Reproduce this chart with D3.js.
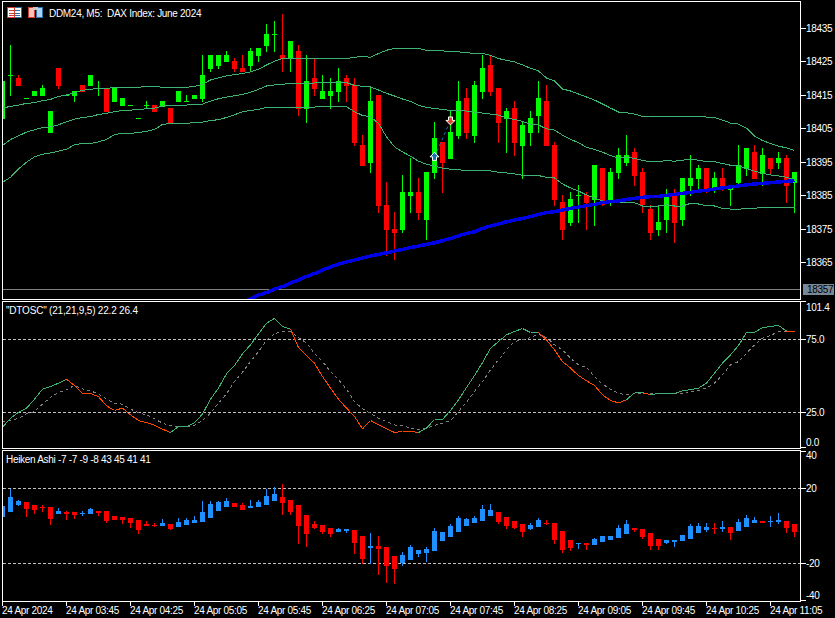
<!DOCTYPE html>
<html>
<head>
<meta charset="utf-8">
<script src="https://d3js.org/d3.v7.min.js"></script>
<style>
html, body { margin: 0; padding: 0; background: #000; }
svg { display: block; }
text { font-family: "Liberation Sans", sans-serif; font-size: 10px; letter-spacing: -0.3px; fill: #fff; }
</style>
</head>
<body>
<script>
// candele DDM24 M5
const priceOpen = [18407.9,18421.0,18420.2,18414.1,18414.8,18414.8,18403.7,18423.2,18414.9,18414.8,18418.1,18417.8,18417.2,18416.9,18413.0,18411.8,18412.0,18408.1,18412.0,18412.1,18411.5,18411.2,18413.0,18413.3,18413.9,18413.9,18422.9,18423.8,18425.0,18425.3,18423.2,18423.8,18426.8,18429.7,18433.2,18427.0,18425.9,18428.2,18410.9,18420.2,18413.9,18414.8,18416.0,18420.2,18418.1,18400.1,18394.7,18415.1,18382.2,18375.0,18374.7,18384.9,18386.1,18377.7,18391.8,18401.0,18395.9,18402.8,18414.2,18402.8,18416.0,18424.1,18417.2,18407.9,18411.2,18399.8,18403.7,18408.8,18413.3,18400.1,18383.1,18376.8,18385.1,18385.2,18383.7,18393.3,18383.7,18391.8,18394.7,18398.0,18392.1,18381.0,18374.7,18377.7,18385.2,18377.7,18387.9,18390.0,18393.3,18387.0,18390.3,18386.7,18388.8,18393.0,18398.0,18391.5,18396.2,18394.7,18396.2,18388.8];
const priceHigh = [18419.3,18430.0,18421.0,18414.2,18416.3,18418.1,18410.3,18423.2,18415.0,18416.3,18418.1,18421.1,18419.3,18416.9,18417.2,18414.2,18412.1,18408.2,18413.3,18412.1,18413.3,18411.2,18416.3,18415.1,18415.1,18427.0,18427.0,18427.0,18428.2,18426.2,18427.0,18429.1,18429.1,18436.3,18437.2,18439.3,18431.2,18430.0,18427.0,18425.9,18421.1,18420.2,18423.2,18421.1,18420.2,18403.1,18417.2,18415.1,18389.1,18380.1,18391.2,18396.2,18390.3,18392.1,18407.0,18401.0,18410.3,18419.3,18417.2,18419.3,18427.0,18426.8,18417.2,18411.2,18413.3,18407.0,18410.3,18419.3,18418.1,18401.0,18385.2,18386.1,18388.2,18386.1,18394.1,18393.3,18393.3,18399.2,18403.1,18399.2,18393.3,18382.2,18382.2,18387.0,18387.0,18390.3,18397.1,18394.1,18393.3,18392.1,18393.3,18388.2,18400.1,18399.2,18400.1,18399.2,18396.2,18398.0,18397.1,18392.1];
const priceLow = [18407.9,18414.8,18417.8,18414.1,18414.8,18414.8,18403.7,18416.9,18414.9,18413.0,18416.0,18417.8,18414.8,18410.0,18413.0,18411.8,18412.0,18408.1,18410.9,18410.0,18411.5,18406.6,18413.0,18413.0,18413.9,18413.0,18422.0,18422.9,18425.0,18422.0,18422.0,18422.0,18425.0,18427.9,18427.9,18422.0,18422.0,18408.8,18406.7,18414.8,18413.9,18410.9,18413.0,18413.0,18399.8,18393.8,18391.8,18379.8,18366.9,18365.7,18373.8,18379.8,18377.7,18371.7,18390.0,18385.8,18395.9,18401.9,18401.9,18400.7,18413.9,18414.8,18400.7,18397.7,18396.8,18390.0,18399.8,18403.7,18399.8,18381.9,18371.7,18375.9,18376.8,18374.7,18375.9,18381.9,18381.9,18390.0,18393.8,18387.9,18379.8,18371.7,18372.9,18373.8,18370.8,18375.9,18384.9,18386.7,18385.8,18385.8,18386.4,18381.9,18388.2,18390.9,18390.0,18387.9,18391.2,18393.0,18382.8,18379.8];
const priceClose = [18419.3,18421.1,18417.8,18414.2,18416.3,18417.2,18410.3,18417.8,18415.0,18416.3,18416.0,18421.1,18417.3,18410.0,18417.2,18414.2,18412.1,18408.2,18412.1,18410.0,18413.3,18406.6,18416.3,18413.4,18415.1,18421.1,18427.0,18427.0,18427.0,18422.9,18422.0,18428.2,18429.1,18433.3,18433.3,18425.9,18431.2,18410.9,18419.3,18416.9,18416.3,18416.3,18419.3,18417.8,18400.6,18393.8,18413.3,18381.9,18374.7,18373.8,18386.1,18386.1,18379.8,18392.1,18402.2,18394.7,18404.0,18413.3,18403.7,18418.1,18423.2,18416.0,18406.7,18410.3,18400.6,18406.1,18408.2,18414.2,18399.8,18383.7,18374.7,18384.0,18385.2,18382.8,18394.1,18382.2,18392.1,18397.1,18397.1,18390.9,18382.2,18373.8,18377.1,18384.6,18376.8,18390.3,18390.3,18393.3,18386.7,18390.3,18387.6,18388.2,18394.1,18399.2,18390.0,18397.1,18393.0,18396.2,18387.9,18392.1];

// bande e media
const bandUpper = [18411.2,18411.7,18412.1,18412.6,18412.8,18413.4,18413.8,18414.7,18415.1,18415.8,18416.5,18416.8,18417.1,18417.1,18417.3,18417.3,18417.4,18417.4,18417.7,18417.7,18417.4,18417.4,18417.4,18417.4,18417.7,18418.3,18419.6,18420.2,18420.8,18421.2,18421.5,18422.0,18422.8,18424.1,18425.2,18426.0,18426.0,18426.0,18426.0,18426.0,18426.0,18426.0,18426.0,18426.0,18426.4,18426.6,18426.4,18427.5,18428.5,18429.0,18429.0,18429.0,18429.0,18428.5,18428.4,18428.3,18428.1,18428.0,18427.8,18427.5,18427.5,18427.0,18426.0,18425.5,18425.0,18424.1,18423.1,18422.3,18420.2,18419.3,18416.9,18416.3,18415.4,18414.5,18413.6,18412.4,18411.2,18410.0,18409.8,18409.4,18408.7,18408.7,18408.7,18408.7,18408.7,18408.7,18408.7,18408.7,18408.5,18408.4,18407.6,18406.7,18406.4,18405.2,18402.8,18401.5,18400.6,18399.8,18399.3,18398.5];
const bandMid = [18400.0,18401.8,18402.9,18404.0,18404.7,18405.4,18405.6,18406.2,18407.1,18407.9,18408.4,18408.6,18409.3,18409.6,18410.1,18410.5,18410.6,18410.7,18411.0,18411.2,18411.8,18412.0,18412.1,18412.1,18412.3,18412.4,18413.3,18414.0,18414.5,18414.9,18415.3,18415.9,18416.8,18417.8,18418.1,18418.3,18418.6,18418.6,18418.6,18418.7,18418.8,18418.9,18418.9,18418.8,18418.0,18417.7,18417.5,18416.6,18415.6,18414.8,18413.9,18413.2,18412.0,18411.4,18411.1,18410.8,18410.5,18410.5,18410.3,18410.0,18409.7,18409.4,18409.1,18408.2,18407.8,18407.2,18406.4,18406.1,18405.0,18404.6,18403.1,18401.9,18400.8,18399.5,18398.8,18398.0,18397.0,18396.2,18396.4,18396.2,18395.5,18395.2,18395.2,18395.5,18395.3,18395.6,18395.9,18395.6,18395.2,18395.2,18394.6,18394.1,18393.8,18393.2,18392.3,18391.7,18391.2,18390.9,18390.5,18389.7];
const bandLower = [18389.0,18390.5,18393.0,18395.0,18396.6,18397.4,18397.8,18398.3,18398.9,18400.2,18400.6,18400.6,18401.1,18401.8,18403.3,18403.6,18403.6,18403.9,18404.2,18404.8,18406.3,18406.6,18406.6,18406.6,18406.9,18407.0,18407.5,18407.7,18408.4,18409.2,18410.1,18410.5,18410.8,18411.4,18411.4,18411.4,18411.4,18411.4,18411.4,18411.5,18411.7,18411.7,18411.7,18411.6,18410.1,18409.0,18408.6,18406.6,18402.6,18399.6,18398.1,18396.8,18395.3,18394.4,18393.9,18393.2,18392.9,18392.7,18392.6,18392.6,18392.5,18392.4,18392.0,18391.8,18391.5,18391.1,18391.0,18391.0,18390.5,18390.3,18388.5,18387.3,18386.4,18385.2,18384.3,18383.4,18383.1,18383.1,18383.0,18382.9,18381.9,18381.6,18381.9,18382.2,18381.9,18381.9,18382.7,18382.5,18382.0,18381.9,18381.2,18381.0,18380.9,18381.2,18381.2,18381.5,18381.5,18381.5,18381.5,18381.5];
const maStart = 30;
const maValues = [18353.0,18354.1,18355.3,18356.0,18357.0,18357.8,18358.8,18359.8,18360.8,18361.7,18362.7,18363.7,18364.5,18365.2,18365.7,18366.4,18367.0,18367.4,18367.9,18368.4,18368.9,18369.5,18369.9,18370.4,18370.9,18371.5,18372.2,18373.0,18373.7,18374.2,18375.2,18375.9,18376.5,18377.2,18377.7,18378.2,18378.7,18379.4,18379.9,18380.2,18380.7,18381.2,18381.6,18382.0,18382.4,18382.9,18383.2,18383.4,18383.9,18384.2,18384.5,18384.7,18384.8,18385.1,18385.4,18385.7,18386.0,18386.4,18386.6,18387.0,18387.3,18387.6,18387.9,18388.2,18388.5,18388.7,18388.9,18389.1,18389.3,18389.5];

// DTOSC
const oscMain = [14.9,21.1,25.2,28.0,34.1,41.0,42.8,45.1,47.8,43.5,38.0,38.0,35.9,29.6,26.4,28.0,23.4,19.5,18.1,16.3,13.6,11.3,15.4,15.2,18.1,23.9,34.1,41.7,51.5,57.2,65.2,71.3,78.9,86.2,89.4,83.9,82.1,69.5,64.0,58.8,49.6,41.7,34.1,28.0,22.3,13.8,19.5,16.5,13.8,11.3,12.0,12.0,11.3,14.3,20.2,20.2,26.4,33.7,42.1,50.3,59.2,69.0,73.6,78.2,80.5,82.5,79.8,79.8,74.8,67.9,59.9,55.4,50.3,46.7,43.5,37.1,33.2,31.6,33.7,38.5,38.5,37.3,38.0,38.0,38.0,39.8,40.7,41.7,45.1,51.9,58.8,64.5,70.9,79.8,79.8,83.2,83.9,84.6,80.8,80.2];
const oscSignal = [18.4,19.5,21.1,24.1,25.7,30.7,35.3,38.7,40.5,43.6,41.2,39.8,37.8,34.1,31.4,30.7,27.3,24.8,23.4,20.7,17.7,15.9,15.4,15.2,16.1,19.5,24.5,31.4,37.8,46.2,52.6,59.9,66.8,74.3,78.9,80.5,80.5,76.4,72.5,65.6,59.9,53.1,47.4,41.0,32.5,27.5,24.5,21.1,18.8,16.5,15.9,14.3,13.1,14.3,16.1,17.7,19.3,25.7,32.1,39.4,46.2,54.2,61.1,67.9,73.6,74.8,76.4,78.6,76.4,71.3,67.9,62.2,57.6,56.0,49.6,44.4,41.0,38.2,37.1,37.8,38.2,38.2,38.0,38.0,38.0,38.2,39.4,40.1,41.7,45.1,50.8,57.6,59.9,65.6,71.3,75.9,77.7,80.5,80.5,80.5];
const oscLevels = [75, 25];
const oscTicks = [101.4, 75, 25, 0];

// Heiken Ashi
const haOpen = [4.7,7.4,11.1,12.7,11.1,10.0,10.0,6.3,7.4,7.4,6.3,6.3,7.9,7.9,5.2,4.7,4.2,3.1,1.0,0.4,-0.1,1.0,-0.6,0.4,1.5,2.0,4.2,7.9,10.0,12.2,11.1,9.5,10.0,11.1,13.2,15.4,13.8,11.1,5.8,1.0,0.4,-1.2,-3.3,-2.8,-2.2,-5.4,-11.8,-10.8,-11.3,-16.1,-19.8,-18.2,-15.0,-14.5,-13.4,-8.1,-6.0,-3.3,-0.1,1.5,2.6,5.2,7.4,4.7,2.6,1.0,-1.7,-0.6,1.5,1.5,-2.8,-7.6,-9.7,-9.2,-10.2,-8.6,-7.6,-6.5,-4.4,-1.2,-1.7,-3.8,-7.0,-9.2,-8.6,-8.1,-7.0,-3.8,-2.2,-1.2,-1.7,-0.6,-2.8,-0.6,1.5,2.6,2.2,2.0,2.6,1.0];
const haHigh = [10.6,20.0,13.8,12.7,11.1,11.1,10.0,9.5,7.9,7.4,7.9,9.5,7.9,7.9,5.2,4.7,4.2,3.1,2.6,1.5,3.6,1.0,4.2,4.2,5.2,13.2,13.2,13.2,14.8,12.2,12.2,13.8,13.8,19.6,20.7,22.3,13.8,11.1,5.8,2.6,0.4,-1.2,-1.2,-1.7,-2.2,-5.4,-3.8,-5.4,-11.3,-16.1,-14.0,-10.2,-12.9,-11.3,-1.2,-3.3,1.0,5.2,4.2,5.2,11.1,11.6,7.4,4.7,2.6,1.0,1.5,4.2,3.1,1.5,-2.8,-7.6,-9.2,-9.2,-6.5,-5.4,-5.4,0.4,3.1,-1.2,-1.7,-3.8,-7.0,-7.6,-7.6,-4.9,1.0,1.5,1.5,1.5,2.6,-0.6,3.6,5.8,4.7,2.6,5.2,6.8,2.6,1.0];
const haLow = [4.7,7.4,10.6,4.7,6.3,7.4,0.4,6.3,3.1,3.6,5.2,6.3,5.2,1.5,3.1,1.0,-1.2,-4.4,-0.1,-0.6,-0.1,-2.2,-0.6,0.4,1.5,2.0,4.2,7.9,10.0,10.0,8.4,9.5,10.0,11.1,13.2,5.8,5.8,-9.7,-11.3,-1.7,-4.4,-6.0,-3.3,-3.8,-15.0,-20.0,-20.0,-26.2,-30.5,-31.0,-21.4,-18.2,-16.6,-19.3,-13.4,-8.1,-6.0,-3.3,-0.1,1.5,2.6,5.2,1.0,-1.7,-1.7,-6.0,-2.2,-0.6,0.4,-9.7,-14.5,-13.4,-12.4,-12.9,-10.2,-8.6,-7.6,-6.5,-4.4,-3.3,-7.0,-12.9,-12.9,-9.7,-11.3,-8.1,-7.0,-3.8,-3.3,-4.4,-3.3,-7.6,-2.8,-0.6,1.5,1.5,-0.6,1.0,-3.8,-6.0];
const haClose = [10.6,15.4,13.2,9.0,8.4,9.5,3.6,7.9,6.3,5.8,6.8,9.0,6.8,2.6,3.1,3.1,1.5,-2.2,-0.1,0.1,1.5,-1.7,2.0,3.1,3.1,7.4,11.6,12.7,13.2,10.0,8.4,10.6,12.7,15.9,17.0,12.2,7.4,-0.1,-4.4,-1.2,-3.3,-4.4,-1.7,-1.7,-9.2,-17.7,-10.8,-12.4,-21.4,-23.0,-15.6,-11.3,-12.9,-12.4,-2.8,-3.3,-0.1,4.2,3.6,4.2,9.0,8.4,2.0,-0.1,-1.2,-3.3,0.4,3.1,1.0,-7.6,-12.9,-11.8,-9.2,-10.2,-7.0,-5.4,-5.4,-1.2,1.0,-2.2,-6.0,-10.8,-10.8,-7.6,-7.6,-4.9,-0.1,-0.1,-0.6,-1.7,-0.6,-3.8,2.0,4.2,3.1,1.5,2.6,3.1,-1.2,-3.3];
const haLevels = [20, -20];
const haTicks = [40, 20, -20, -40];

// assi
const priceTicks = [18435, 18425, 18415, 18405, 18395, 18385, 18375, 18365];
const lastPrice = 18357;
const timeLabels = ["24 Apr 2024", "24 Apr 03:45", "24 Apr 04:25", "24 Apr 05:05", "24 Apr 05:45", "24 Apr 06:25", "24 Apr 07:05", "24 Apr 07:45", "24 Apr 08:25", "24 Apr 09:05", "24 Apr 09:45", "24 Apr 10:25", "24 Apr 11:05"];
const trade = { buyBar: 54, buyPrice: 18396.6, sellBar: 56, sellPrice: 18407.5 };

const width = 835, height = 618;
const left = 2.5, right = 800.5;
const main = { top: 1.5, bottom: 299.5 };
const osc = { top: 301.5, bottom: 448.5 };
const ha = { top: 450.5, bottom: 601.5 };

const x = d3.scaleLinear().domain([0, 99]).range([2.5, 794.5]);
const yPrice = d3.scaleLinear().domain([18435, 18365]).range([28.5, 262.5]);
const yOsc = d3.scaleLinear().domain([75, 25]).range([339.5, 412.5]);
const yHa = d3.scaleLinear().domain([20, -20]).range([488.5, 563.5]);

const svg = d3.select("body").append("svg").attr("width", width).attr("height", height);
svg.append("rect").attr("width", width).attr("height", height).attr("fill", "#000");

const defs = svg.append("defs");
[["clipMain", main], ["clipOsc", osc], ["clipHa", ha]].forEach(([id, p]) => {
	defs.append("clipPath").attr("id", id).append("rect")
		.attr("x", left + 0.5).attr("y", p.top + 0.5)
		.attr("width", right - left - 1).attr("height", p.bottom - p.top - 1);
});

const gMain = svg.append("g").attr("clip-path", "url(#clipMain)").attr("shape-rendering", "crispEdges");
const gOsc = svg.append("g").attr("clip-path", "url(#clipOsc)").attr("shape-rendering", "crispEdges");
const gHa = svg.append("g").attr("clip-path", "url(#clipHa)").attr("shape-rendering", "crispEdges");

function drawCandles(g, y, o, h, l, c, upColor, downColor) {
	o.forEach((open, i) => {
		const close = c[i];
		const color = close >= open ? upColor : downColor;
		const top = Math.round(y(Math.max(open, close)));
		const bottom = Math.round(y(Math.min(open, close)));
		g.append("rect")
			.attr("x", Math.floor(x(i)))
			.attr("y", Math.round(y(h[i])))
			.attr("width", 1)
			.attr("height", Math.max(1, Math.round(y(l[i])) - Math.round(y(h[i]))))
			.attr("fill", color);
		g.append("rect")
			.attr("x", Math.floor(x(i)) - 2)
			.attr("y", top)
			.attr("width", 5)
			.attr("height", Math.max(1, bottom - top))
			.attr("fill", color);
	});
}

// grafico principale
gMain.append("line")
	.attr("x1", left).attr("x2", right)
	.attr("y1", yPrice(lastPrice)).attr("y2", yPrice(lastPrice))
	.attr("stroke", "#808080");
drawCandles(gMain, yPrice, priceOpen, priceHigh, priceLow, priceClose, "#00ff00", "#ff0000");

const priceLine = d3.line().x((d, i) => x(i)).y(d => yPrice(d));
[bandUpper, bandMid, bandLower].forEach(band => {
	gMain.append("path").attr("d", priceLine(band)).attr("fill", "none").attr("stroke", "#3cb371");
});
gMain.append("path")
	.attr("d", d3.line().x((d, i) => x(i + maStart)).y(d => yPrice(d))(maValues))
	.attr("fill", "none").attr("stroke", "#0000e6").attr("stroke-width", 3.5);

// trade
svg.append("line")
	.attr("x1", x(trade.buyBar)).attr("y1", yPrice(trade.buyPrice))
	.attr("x2", x(trade.sellBar)).attr("y2", yPrice(trade.sellPrice))
	.attr("stroke", "#1e6fc0").attr("stroke-dasharray", "3,3");
const bx = x(trade.buyBar), by = yPrice(trade.buyPrice);
svg.append("path")
	.attr("d", `M${bx},${by - 4.5}L${bx + 4.5},${by}L${bx + 2},${by}L${bx + 2},${by + 3.5}L${bx - 2},${by + 3.5}L${bx - 2},${by}L${bx - 4.5},${by}Z`)
	.attr("fill", "#1a6fb5").attr("stroke", "#fff");
const sx = x(trade.sellBar), sy = yPrice(trade.sellPrice);
svg.append("path")
	.attr("d", `M${sx},${sy + 4.5}L${sx + 4.5},${sy}L${sx + 2},${sy}L${sx + 2},${sy - 3.5}L${sx - 2},${sy - 3.5}L${sx - 2},${sy}L${sx - 4.5},${sy}Z`)
	.attr("fill", "#e0452a").attr("stroke", "#fff");

// DTOSC
oscLevels.forEach(v => {
	gOsc.append("line").attr("x1", left).attr("x2", right)
		.attr("y1", yOsc(v)).attr("y2", yOsc(v))
		.attr("stroke", "#c0c0c0").attr("stroke-dasharray", "3,2");
});
gOsc.append("path")
	.attr("d", d3.line().x((d, i) => x(i)).y(d => yOsc(d))(oscSignal))
	.attr("fill", "none").attr("stroke", "#808080").attr("stroke-dasharray", "3,3");
oscMain.slice(1).forEach((v, k) => {
	const i = k + 1;
	gOsc.append("line")
		.attr("x1", x(i - 1)).attr("y1", yOsc(oscMain[i - 1]))
		.attr("x2", x(i)).attr("y2", yOsc(v))
		.attr("stroke", v >= oscSignal[i] ? "#3cb371" : "#ff4500");
});

// Heiken Ashi
haLevels.forEach(v => {
	gHa.append("line").attr("x1", left).attr("x2", right)
		.attr("y1", yHa(v)).attr("y2", yHa(v))
		.attr("stroke", "#c0c0c0").attr("stroke-dasharray", "3,2");
});
drawCandles(gHa, yHa, haOpen, haHigh, haLow, haClose, "#1e90ff", "#ff0000");

// cornici
[main, osc, ha].forEach(p => {
	svg.append("rect")
		.attr("x", left).attr("y", p.top)
		.attr("width", right - left).attr("height", p.bottom - p.top)
		.attr("fill", "none").attr("stroke", "#fff").attr("shape-rendering", "crispEdges");
});

// assi a destra
function rightAxis(scale, panel, values, format, adjust) {
	values.forEach(v => {
		const py = Math.min(Math.max(Math.round(scale(v) - 0.5) + 0.5, panel.top), panel.bottom - 1);
		svg.append("line").attr("x1", right).attr("x2", right + 5)
			.attr("y1", py).attr("y2", py)
			.attr("stroke", "#fff").attr("shape-rendering", "crispEdges");
		svg.append("text").attr("x", 806).attr("y", py + 3.5 + (adjust[v] || 0)).text(format(v));
	});
}
rightAxis(yPrice, main, priceTicks, v => String(v), {});
rightAxis(yOsc, osc, oscTicks, v => v.toFixed(1), { 101.4: 5.5, 0: -5 });
rightAxis(yHa, ha, haTicks, v => String(v), { 40: 4, "-40": -5 });

svg.append("rect").attr("x", 803).attr("y", 284).attr("width", 31).attr("height", 11).attr("fill", "#778899");
svg.append("text").attr("x", 807).attr("y", 293).style("fill", "#000").text(String(lastPrice));

// asse del tempo
timeLabels.forEach((label, k) => {
	const tx = Math.floor(x(k * 8));
	svg.append("line").attr("x1", tx + 0.5).attr("x2", tx + 0.5)
		.attr("y1", ha.bottom).attr("y2", ha.bottom + 4)
		.attr("stroke", "#fff").attr("shape-rendering", "crispEdges");
	svg.append("text").attr("x", tx).attr("y", 613.5).text(label);
});

// titoli
svg.append("text").attr("x", 49).attr("y", 16.5).text("DDM24, M5:  DAX Index: June 2024").style("white-space", "pre");
svg.append("text").attr("x", 6).attr("y", 314).style("letter-spacing", "-0.2px").text('"DTOSC" (21,21,9,5) 22.2 26.4');
svg.append("text").attr("x", 6).attr("y", 462.5).text("Heiken Ashi -7 -7 -9 -8 43 45 41 41");

// icone
const icons = svg.append("g").attr("shape-rendering", "crispEdges");
icons.append("rect").attr("x", 7.5).attr("y", 7.5).attr("width", 14).attr("height", 10).attr("fill", "#fff").attr("stroke", "#2f6fa8");
icons.append("rect").attr("x", 7.5).attr("y", 7.5).attr("width", 7).attr("height", 10).attr("fill", "none").attr("stroke", "#d23c32");
[10, 13, 15].forEach(iy => {
	icons.append("rect").attr("x", 9).attr("y", iy).attr("width", 5).attr("height", 1).attr("fill", "#d23c32");
	icons.append("rect").attr("x", 15).attr("y", iy).attr("width", 5).attr("height", 1).attr("fill", "#2f6fa8");
});
icons.append("rect").attr("x", 28.5).attr("y", 7.5).attr("width", 6).attr("height", 10).attr("fill", "#f4c4b8").attr("stroke", "#d23c32");
icons.append("rect").attr("x", 36.5).attr("y", 7.5).attr("width", 6).attr("height", 10).attr("fill", "#a8d4f0").attr("stroke", "#2f6fa8");
icons.append("rect").attr("x", 33).attr("y", 7).attr("width", 5).attr("height", 3).attr("fill", "#c8c8c8");
</script>
</body>
</html>
